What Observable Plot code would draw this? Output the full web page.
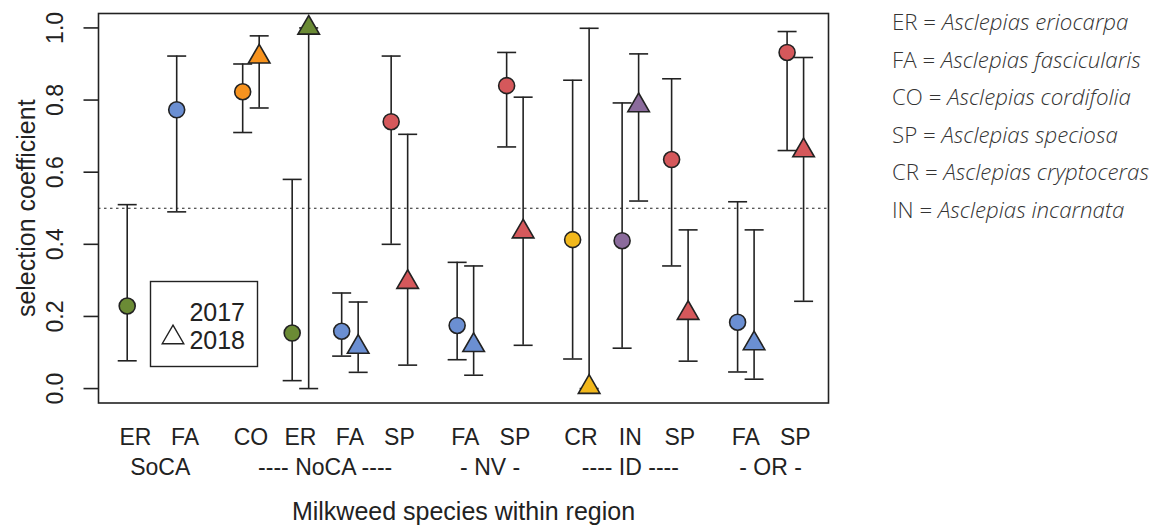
<!DOCTYPE html>
<html><head><meta charset="utf-8">
<script src="https://cdn.jsdelivr.net/npm/d3@7"></script>
<script src="https://cdn.jsdelivr.net/npm/@observablehq/plot@0.6"></script>
<style>body{margin:0;background:#fff} #chart{width:1160px;height:527px}</style>
</head><body><div id="chart"></div>
<script>
// ---- data ----
const regionLabels = ["SoCA", "---- NoCA ----", "- NV -", "---- ID ----", "- OR -"];
const species = ["ER","FA","CO","ER","FA","SP","FA","SP","CR","IN","SP","FA","SP"];
const speciesRegion = [0,0,1,1,1,1,2,2,3,3,3,4,4];
const est2017 = [0.229,0.773,0.823,0.154,0.159,0.74,0.175,0.84,0.413,0.41,0.635,0.184,0.932];
const lo2017  = [0.077,0.49,0.71,0.022,0.09,0.40,0.08,0.67,0.082,0.112,0.34,0.046,0.66];
const hi2017  = [0.51,0.922,0.90,0.58,0.265,0.922,0.35,0.932,0.855,0.792,0.859,0.518,0.99];
const est2018 = [null,null,0.92,1.0,0.115,0.295,0.12,0.435,0.004,0.785,0.209,0.125,0.66];
const lo2018  = [null,null,0.778,0.0,0.045,0.065,0.037,0.12,0.0,0.52,0.076,0.026,0.242];
const hi2018  = [null,null,0.978,1.0,0.24,0.705,0.34,0.808,0.999,0.928,0.44,0.44,0.918];
const yTicks = [0, 0.2, 0.4, 0.6, 0.8, 1.0];
const speciesCodes = ["ER","FA","CO","SP","CR","IN"];
const speciesColors = ["#6b8b35","#6b8fd2","#f7931e","#d5585b","#f2b81c","#8b6b9c"];
const speciesNames = ["Asclepias eriocarpa","Asclepias fascicularis","Asclepias cordifolia","Asclepias speciosa","Asclepias cryptoceras","Asclepias incarnata"];
const legendYears = ["2017","2018"];
const xTitle = "Milkweed species within region";
const yTitle = "selection coefficient";

// ---- derived tables ----
const pos = species.map((s,i) => i + speciesRegion[i]/3);
const rows17 = species.map((sp,i) => ({sp, pos: pos[i], est: est2017[i], lo: lo2017[i], hi: hi2017[i]}));
const rows18 = species.map((sp,i) => ({sp, pos: pos[i] + 1/3, est: est2018[i], lo: lo2018[i], hi: hi2018[i]})).filter(d => d.est != null);
const allRows = rows17.concat(rows18);
const labelRows = species.map((sp,i) => ({sp, pos: pos[i] + 1/6}));
const regionRows = regionLabels.map((lab,r) => ({lab, pos: d3.mean(labelRows.filter((d,i) => speciesRegion[i] === r), d => d.pos)}));

const capSym = {draw(ctx){ ctx.moveTo(-9.5,0); ctx.lineTo(9.5,0); }};
const yTickSym = {draw(ctx){ ctx.moveTo(-15,0); ctx.lineTo(0,0); }};
const ink = "#222";

const chart = Plot.plot({
  width: 1160, height: 527,
  marginLeft: 98, marginRight: 332, marginTop: 13, marginBottom: 124.5,
  style: {fontFamily: "'Liberation Sans', Arial, sans-serif", fontSize: "23px", background: "#fff", color: ink},
  x: {domain: [-0.58, 14.17], axis: null},
  y: {domain: [-0.04, 1.04], axis: null},
  color: {domain: speciesCodes, range: speciesColors},
  marks: [
    Plot.ruleY([0.5], {stroke: ink, strokeWidth: 1.2, strokeDasharray: "2.5,3.5"}),
    Plot.ruleX(allRows, {x: "pos", y1: "lo", y2: "hi", stroke: ink, strokeWidth: 1.6}),
    Plot.dot(allRows, {x: "pos", y: "lo", symbol: capSym, stroke: ink, strokeWidth: 1.6}),
    Plot.dot(allRows, {x: "pos", y: "hi", symbol: capSym, stroke: ink, strokeWidth: 1.6}),
    Plot.dot(rows17, {x: "pos", y: "est", r: 8, fill: "sp", stroke: ink, strokeWidth: 1.6}),
    Plot.dot(rows18, {x: "pos", y: "est", r: 8, symbol: "triangle", fill: "sp", stroke: ink, strokeWidth: 1.6}),
    Plot.frame({stroke: ink, strokeWidth: 1.6}),
    Plot.dot(yTicks, {y: d => d, frameAnchor: "left", symbol: yTickSym, stroke: ink, strokeWidth: 1.6}),
    Plot.text(yTicks, {y: d => d, text: d => d.toFixed(1), frameAnchor: "left", textAnchor: "middle", lineAnchor: "middle", dx: -43, rotate: -90, fontSize: 23, fill: ink}),
    Plot.text([yTitle], {text: d => d, frameAnchor: "left", textAnchor: "middle", lineAnchor: "middle", dx: -72, rotate: -90, fontSize: 25, fill: ink}),
    Plot.text(labelRows, {x: "pos", text: "sp", frameAnchor: "bottom", lineAnchor: "middle", dy: 35, fontSize: 23, fill: ink}),
    Plot.text(regionRows, {x: "pos", text: "lab", frameAnchor: "bottom", lineAnchor: "middle", dy: 65, fontSize: 23, fill: ink}),
    Plot.text([xTitle], {text: d => d, frameAnchor: "bottom", lineAnchor: "middle", dy: 109, fontSize: 25, fill: ink})
  ]
});
document.getElementById("chart").appendChild(chart);

// ---- in-plot year legend ----
const svg = d3.select(chart);
const lg = svg.append("g");
lg.append("rect").attr("x", 150.5).attr("y", 281.5).attr("width", 107).attr("height", 85)
  .attr("fill", "none").attr("stroke", ink).attr("stroke-width", 1.4);
lg.selectAll("text").data(legendYears).join("text")
  .attr("x", 245).attr("y", (d,i) => 321 + i*28).attr("text-anchor", "end")
  .attr("font-size", 25).attr("fill", ink).attr("font-family", "'Liberation Sans', Arial, sans-serif").text(d => d);
lg.append("path").attr("transform", "translate(173,337.5)")
  .attr("d", d3.symbol(d3.symbolTriangle, Math.PI*64)())
  .attr("fill", "none").attr("stroke", ink).attr("stroke-width", 1.4);

// ---- species key on the right ----
const key = svg.append("g").attr("font-family", "'Open Sans', sans-serif").attr("font-size", 22.3).attr("font-weight", 300).attr("fill", "#333").attr("text-anchor", "start");
speciesCodes.forEach((c,i) => {
  const t = key.append("text").attr("x", 892).attr("y", 30 + i*37.6);
  t.append("tspan").text(c + " = ");
  t.append("tspan").attr("font-style", "italic").text(speciesNames[i]);
});
</script></body></html>
